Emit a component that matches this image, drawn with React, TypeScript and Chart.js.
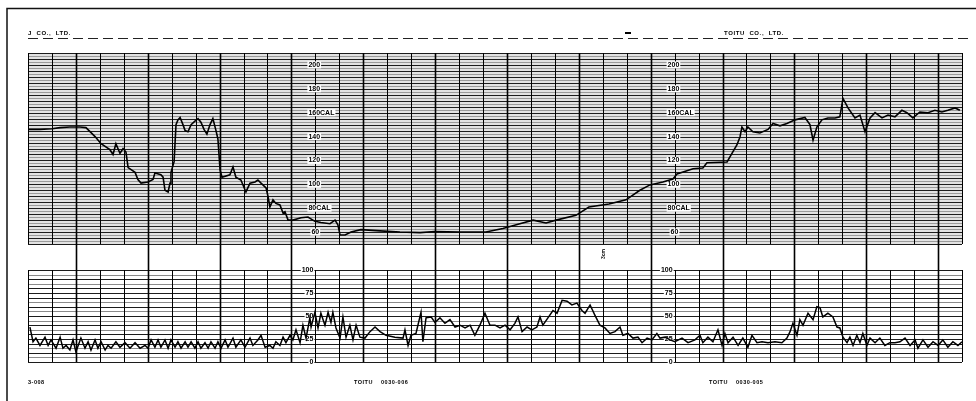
import React, { useEffect, useRef } from "react";
import { Chart, registerables } from "chart.js";
Chart.register(...registerables);

// ---------- data (time in minutes, one grid box = 1 min) ----------
const fhrTime = [0, 0.5, 1.0, 1.34, 1.75, 2.17, 2.42, 2.8, 3.05, 3.42, 3.55, 3.67, 3.84, 3.97, 4.09, 4.18, 4.47, 4.59, 4.72, 5.01, 5.22, 5.3, 5.55, 5.64, 5.72, 5.85, 5.93, 5.97, 6.1, 6.18, 6.26, 6.35, 6.47, 6.56, 6.68, 6.81, 6.97, 7.1, 7.22, 7.35, 7.47, 7.6, 7.72, 7.85, 7.93, 8.02, 8.1, 8.43, 8.56, 8.68, 8.89, 9.1, 9.27, 9.48, 9.6, 9.73, 9.94, 10.02, 10.1, 10.23, 10.35, 10.52, 10.65, 10.73, 10.86, 11.06, 11.4, 11.69, 11.98, 12.23, 12.61, 12.82, 12.94, 13.03, 13.24, 13.49, 13.9, 14.7, 15.53, 16.37, 16.99, 18.04, 19.12, 19.83, 20.5, 21.09, 21.63, 22.05, 22.88, 23.42, 24.26, 24.97, 25.55, 25.97, 26.51, 26.93, 27.1, 27.77, 28.18, 28.35, 29.19, 29.31, 29.6, 29.73, 29.81, 29.94, 30.06, 30.27, 30.56, 30.9, 31.11, 31.4, 31.69, 32.03, 32.44, 32.65, 32.78, 32.94, 33.15, 33.4, 33.7, 33.9, 34.03, 34.24, 34.53, 34.74, 34.95, 35.16, 35.37, 35.66, 35.91, 36.2, 36.49, 36.7, 36.95, 37.24, 37.58, 37.87, 38.16, 38.41, 38.71, 38.91];
const fhrValue = [146, 146, 146.5, 147.5, 148, 148, 147.5, 140, 134, 129, 125, 134, 126, 130, 127, 114, 110, 104, 101, 102, 104, 109.5, 108, 106, 95, 93.6, 101, 110, 119, 150, 154, 156, 150, 145, 144, 150, 153, 155, 152, 146, 142, 150, 155, 145, 138, 112, 106, 108, 114.5, 106, 103.6, 93.6, 101, 102, 103.6, 101, 97, 90, 81, 87, 84, 82.7, 76, 77, 70, 70, 72, 72.6, 69, 68, 67, 70, 66, 57.5, 57.5, 60, 62, 61, 60, 59.5, 60.5, 60, 60, 63, 66.8, 70, 67.6, 70, 74, 81, 83.5, 87, 95, 99.5, 102, 104.5, 108.7, 113, 113.7, 118, 118.7, 123, 133, 139.7, 148, 144, 148, 144, 143, 146, 151, 149, 151, 154, 156, 150, 137, 148, 154, 155.6, 155.6, 156.5, 172, 164, 155.6, 158, 144, 155.6, 160, 155.6, 158, 156.5, 162, 160, 155.6, 160.6, 160, 162, 160.6, 162, 164, 162];

const ucTime = [0.08, 0.21, 0.33, 0.5, 0.71, 0.84, 0.96, 1.17, 1.34, 1.46, 1.59, 1.75, 1.88, 2.0, 2.21, 2.38, 2.51, 2.63, 2.8, 2.92, 3.05, 3.22, 3.34, 3.47, 3.67, 3.84, 4.05, 4.26, 4.47, 4.68, 4.89, 5.01, 5.14, 5.3, 5.43, 5.55, 5.72, 5.85, 5.97, 6.14, 6.26, 6.39, 6.56, 6.68, 6.81, 6.97, 7.1, 7.22, 7.39, 7.52, 7.64, 7.81, 7.93, 8.06, 8.23, 8.35, 8.56, 8.68, 8.89, 9.06, 9.27, 9.39, 9.6, 9.73, 9.9, 10.1, 10.23, 10.35, 10.52, 10.65, 10.77, 10.94, 11.06, 11.19, 11.36, 11.48, 11.61, 11.77, 11.82, 11.98, 12.11, 12.23, 12.4, 12.53, 12.65, 12.73, 12.86, 13.03, 13.15, 13.28, 13.44, 13.57, 13.7, 13.86, 14.07, 14.28, 14.49, 14.7, 14.95, 15.32, 15.66, 15.74, 15.87, 15.99, 16.2, 16.41, 16.49, 16.62, 16.83, 16.99, 17.2, 17.41, 17.62, 17.83, 18.04, 18.25, 18.46, 18.66, 18.87, 19.08, 19.29, 19.5, 19.71, 19.92, 20.13, 20.33, 20.46, 20.63, 20.84, 21.04, 21.25, 21.38, 21.5, 21.71, 21.92, 22.09, 22.3, 22.51, 22.71, 22.92, 23.13, 23.26, 23.47, 23.67, 23.88, 24.09, 24.3, 24.51, 24.72, 24.84, 25.05, 25.26, 25.47, 25.64, 25.85, 26.05, 26.26, 26.39, 26.6, 26.81, 27.01, 27.31, 27.56, 27.85, 28.06, 28.18, 28.39, 28.6, 28.81, 28.98, 29.1, 29.23, 29.44, 29.65, 29.85, 30.06, 30.23, 30.44, 30.65, 30.9, 31.19, 31.48, 31.69, 31.82, 31.94, 32.11, 32.23, 32.36, 32.57, 32.78, 32.94, 33.07, 33.19, 33.4, 33.61, 33.78, 33.9, 34.03, 34.2, 34.32, 34.45, 34.61, 34.74, 34.86, 35.03, 35.16, 35.37, 35.57, 35.78, 35.99, 36.2, 36.41, 36.62, 36.83, 37.04, 37.16, 37.37, 37.58, 37.79, 38.0, 38.2, 38.41, 38.62, 38.83, 39.0];
const ucValue = [38, 22, 26, 18, 27, 18, 24, 15, 27, 15, 18, 13, 24, 11, 26, 15, 22, 13, 24, 15, 22, 13, 18, 15, 22, 16, 21, 15, 21, 15, 18, 15, 24, 16, 24, 16, 24, 15, 24, 16, 22, 15, 22, 16, 22, 15, 22, 15, 21, 15, 22, 15, 22, 15, 24, 16, 26, 16, 24, 16, 26, 18, 24, 29, 16, 18, 15, 22, 18, 27, 21, 29, 24, 35, 21, 40, 26, 48, 38, 54, 37, 53, 40, 54, 43, 54, 37, 26, 49, 27, 40, 24, 40, 27, 26, 33, 38, 33, 29, 27, 26, 35, 18, 29, 31, 54, 22, 48, 49, 43, 48, 42, 46, 38, 40, 37, 40, 29, 40, 53, 40, 40, 37, 40, 35, 42, 49, 33, 38, 35, 38, 49, 40, 48, 56, 53, 67, 66, 62, 64, 56, 53, 62, 51, 40, 37, 31, 33, 38, 29, 31, 26, 27, 21, 26, 24, 31, 26, 27, 24, 22, 26, 21, 24, 29, 21, 27, 22, 35, 18, 31, 21, 27, 18, 26, 16, 29, 21, 22, 21, 22, 21, 26, 33, 42, 29, 46, 40, 53, 46, 60, 59, 49, 53, 49, 38, 37, 27, 21, 27, 18, 29, 21, 31, 18, 26, 21, 26, 18, 21, 21, 22, 26, 18, 24, 15, 24, 16, 22, 18, 24, 16, 22, 18, 22];

const fhrLabelValues = [200, 180, 160, 140, 120, 100, 80, 60];
const fhrLabelTexts = ["200", "180", "160CAL", "140", "120", "100", "80CAL", "60"];
const ucLabelValues = [100, 75, 50, 25, 0];
const ucLabelTexts = ["100", "75", "50", "25", "0"];
const labelColumns = [12, 27];
const headerLeft = "J  CO.,  LTD.";
const headerRight = "TOITU  CO.,  LTD.";
const footerTexts = ["3-008", "TOITU    0030-006", "TOITU    0030-005"];
const sideNote = "3cm";

// ---------- layout ----------
const W = 976;
const H = 401;
const PLOT_L = 28;
const PLOT_R = 962;
const FHR_TOP = 53;
const FHR_BOT = 244;
const UC_TOP = 270;
const UC_BOT = 362;
const AREA_BOT = 363;
const T_MAX = 39;
const FHR_MIN = 50;
const FHR_MAX = 210;

const fhrScaleMin = FHR_MAX - (FHR_MAX - FHR_MIN) * (AREA_BOT - FHR_TOP) / (FHR_BOT - FHR_TOP);
const ucPx = (UC_BOT - UC_TOP) / 100;
const ucScaleMax = 100 + (UC_TOP - FHR_TOP) / ucPx;
const ucScaleMin = -(AREA_BOT - UC_BOT) / ucPx;

const FONT = '"Liberation Sans", Arial, sans-serif';

const paperPlugin = {
  id: "ctgPaper",
  beforeDraw(chart: any) {
    const ctx = chart.ctx as CanvasRenderingContext2D;
    ctx.save();
    ctx.fillStyle = "#fff";
    ctx.fillRect(0, 0, chart.width, chart.height);
    // frame
    ctx.strokeStyle = "#111";
    ctx.lineWidth = 1.5;
    ctx.beginPath();
    ctx.moveTo(7, H);
    ctx.lineTo(7, 8.5);
    ctx.lineTo(W, 8.5);
    ctx.stroke();
    // header
    ctx.fillStyle = "#000";
    ctx.font = `bold 6px ${FONT}`;
    ctx.textBaseline = "alphabetic";
    ctx.textAlign = "left";
    (ctx as any).letterSpacing = "0.6px";
    ctx.fillText(headerLeft, 28, 35);
    ctx.fillText(headerRight, 724, 35);
    ctx.fillRect(625, 32, 6, 2);
    ctx.setLineDash([10, 5]);
    ctx.lineWidth = 1;
    ctx.strokeStyle = "#222";
    ctx.beginPath();
    ctx.moveTo(28, 38.5);
    ctx.lineTo(970, 38.5);
    ctx.stroke();
    ctx.setLineDash([]);
    // footer
    ctx.font = `bold 5.5px ${FONT}`;
    (ctx as any).letterSpacing = "0.5px";
    ctx.fillText(footerTexts[0], 28, 384);
    ctx.fillText(footerTexts[1], 354, 384);
    ctx.fillText(footerTexts[2], 709, 384);
    ctx.restore();
  },
  beforeDatasetsDraw(chart: any) {
    const ctx = chart.ctx as CanvasRenderingContext2D;
    const xs = chart.scales.x;
    const yf = chart.scales.yF;
    const yu = chart.scales.yU;
    const xL = xs.getPixelForValue(0);
    const xR = xs.getPixelForValue(T_MAX);
    const fT = yf.getPixelForValue(FHR_MAX);
    const fB = yf.getPixelForValue(FHR_MIN);
    const uT = yu.getPixelForValue(100);
    const uB = yu.getPixelForValue(0);
    ctx.save();
    // upper paper tint
    ctx.fillStyle = "#e2e2e2";
    ctx.fillRect(xL, fT, xR - xL, fB - fT);
    // upper horizontal lines
    for (let v = FHR_MIN; v <= FHR_MAX + 0.01; v += 2.5) {
      const y = Math.round(yf.getPixelForValue(v)) + 0.5;
      const major = Math.abs(v % 5) < 0.01;
      ctx.strokeStyle = major ? "#1c1c1c" : "#9a9a9a";
      ctx.lineWidth = major ? 1 : 1;
      ctx.beginPath();
      ctx.moveTo(xL, y);
      ctx.lineTo(xR, y);
      ctx.stroke();
    }
    // lower horizontal lines
    for (let v = 0; v <= 100; v += 5) {
      const y = Math.round(yu.getPixelForValue(v)) + 0.5;
      const major = v % 10 === 0 || v % 25 === 0;
      ctx.strokeStyle = major ? "#1c1c1c" : "#8a8a8a";
      ctx.lineWidth = 1;
      ctx.beginPath();
      ctx.moveTo(xL, y);
      ctx.lineTo(xR, y);
      ctx.stroke();
    }
    // vertical lines
    for (let t = 0; t <= T_MAX; t++) {
      const x = Math.round(xs.getPixelForValue(t)) + 0.5;
      const major = t % 3 === 2;
      ctx.strokeStyle = "#000";
      if (major) {
        ctx.lineWidth = 1.6;
        ctx.beginPath();
        ctx.moveTo(x, fT);
        ctx.lineTo(x, uB);
        ctx.stroke();
      } else {
        ctx.lineWidth = 1;
        ctx.beginPath();
        ctx.moveTo(x, fT);
        ctx.lineTo(x, fB);
        ctx.moveTo(x, uT);
        ctx.lineTo(x, uB);
        ctx.stroke();
      }
    }
    // labels
    ctx.font = `bold 7px ${FONT}`;
    ctx.textBaseline = "middle";
    for (const col of labelColumns) {
      const cx = xs.getPixelForValue(col);
      ctx.textAlign = "left";
      fhrLabelValues.forEach((v, i) => {
        const y = yf.getPixelForValue(v);
        const txt = fhrLabelTexts[i];
        const w = ctx.measureText(txt).width;
        const lx = cx - (txt.length === 2 ? 4 : 7);
        ctx.fillStyle = "#fff";
        ctx.fillRect(lx - 1, y - 3.5, w + 2, 7);
        ctx.fillStyle = "#000";
        ctx.fillText(txt, lx, y);
      });
      ctx.textAlign = "right";
      ucLabelValues.forEach((v, i) => {
        const y = yu.getPixelForValue(v);
        const txt = ucLabelTexts[i];
        const w = ctx.measureText(txt).width;
        ctx.fillStyle = "#fff";
        ctx.fillRect(cx - 2 - w - 1, y - 3.5, w + 2, 7);
        ctx.fillStyle = "#000";
        ctx.fillText(txt, cx - 2, y);
      });
    }
    // side note (rotated)
    ctx.save();
    ctx.translate(604, 254);
    ctx.rotate(-Math.PI / 2);
    ctx.font = `bold 5px ${FONT}`;
    ctx.textAlign = "center";
    ctx.fillStyle = "#000";
    ctx.fillText(sideNote, 0, 0);
    ctx.restore();
    ctx.restore();
  },
};

export default function App() {
  const ref = useRef<HTMLCanvasElement | null>(null);
  useEffect(() => {
    if (!ref.current) return;
    const chart = new Chart(ref.current, {
      type: "line",
      data: {
        datasets: [
          {
            label: "FHR",
            data: fhrTime.map((t, i) => ({ x: t, y: fhrValue[i] })),
            yAxisID: "yF",
            borderColor: "#000",
            borderWidth: 1.6,
            pointRadius: 0,
            tension: 0,
            fill: false,
          },
          {
            label: "UC",
            data: ucTime.map((t, i) => ({ x: t, y: ucValue[i] })),
            yAxisID: "yU",
            borderColor: "#000",
            borderWidth: 1.5,
            pointRadius: 0,
            tension: 0,
            fill: false,
          },
        ],
      },
      options: {
        responsive: false,
        maintainAspectRatio: false,
        devicePixelRatio: 1,
        animation: false,
        layout: { padding: { left: PLOT_L, right: W - PLOT_R, top: FHR_TOP, bottom: H - AREA_BOT } },
        scales: {
          x: { type: "linear", min: 0, max: T_MAX, display: false },
          yF: { type: "linear", min: fhrScaleMin, max: FHR_MAX, display: false },
          yU: { type: "linear", min: ucScaleMin, max: ucScaleMax, display: false },
        },
        plugins: { legend: { display: false }, tooltip: { enabled: false } },
      },
      plugins: [paperPlugin],
    });
    return () => chart.destroy();
  }, []);
  return (
    <div style={{ position: "absolute", left: 0, top: 0, width: W, height: H, background: "#fff" }}>
      <canvas ref={ref} width={W} height={H} style={{ display: "block" }} />
    </div>
  );
}
